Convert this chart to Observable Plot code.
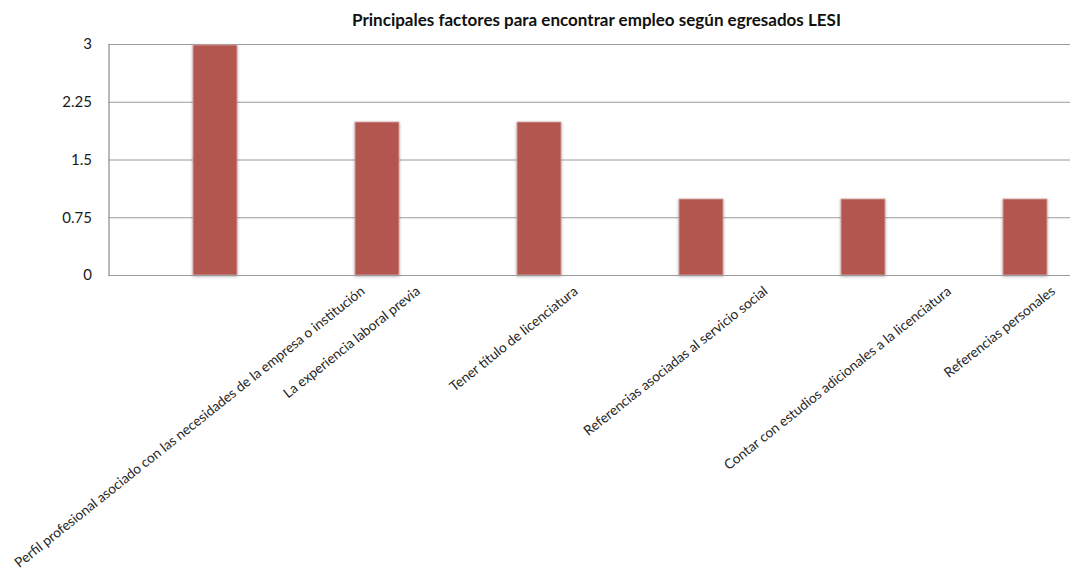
<!DOCTYPE html>
<html>
<head>
<meta charset="utf-8">
<script src="https://cdn.jsdelivr.net/npm/d3@7"></script>
<script src="https://cdn.jsdelivr.net/npm/@observablehq/plot@0.6"></script>
<style>
  html, body { margin: 0; padding: 0; background: #fff; }
  #title { width: 1070px; height: 30px; box-sizing: border-box; padding-top: 10px; padding-left: 123px;
           text-align: center; font: bold 17px Lato, "Open Sans", sans-serif; line-height: 20px; color: #111; }
  g[aria-label="bar"] rect { filter: drop-shadow(0px 1px 1.5px rgba(0,0,0,0.35)); }
</style>
</head>
<body>
<div id="title">Principales factores para encontrar empleo según egresados LESI</div>
<div id="chart"></div>
<script>
const categories = [
  "Perfil profesional asociado con las necesidades de la empresa o institución",
  "La experiencia laboral previa",
  "Tener título de licenciatura",
  "Referencias asociadas al servicio social",
  "Contar con estudios adicionales a la licenciatura",
  "Referencias personales"
];
const values = [3, 2, 2, 1, 1, 1];
const yTicks = [0, 0.75, 1.5, 2.25, 3];
const yTickLabels = ["0", "0.75", "1.5", "2.25", "3"];

const data = categories.map((c, i) => ({category: c, value: values[i]}));

const labelSize = 13.7;
const angle = 38.5;
const ctx = document.createElement("canvas").getContext("2d");
ctx.font = labelSize + "px Lato";
const rad = angle * Math.PI / 180;
const labelMarks = categories.map(c => {
  const L = ctx.measureText(c).width;
  const off = 12 + (L * Math.sin(rad) + labelSize * Math.cos(rad)) / 2;
  return Plot.text([c], {
    x: d => d, frameAnchor: "bottom", textAnchor: "middle", rotate: -angle,
    dx: -23, dy: off, fontSize: labelSize, fontFamily: "Lato", fill: "#262626"
  });
});

const chart = Plot.plot({
  width: 1070,
  height: 542,
  marginTop: 14,
  marginBottom: 297,
  marginLeft: 108.5,
  marginRight: 0,
  style: {fontFamily: "Lato, 'Open Sans', sans-serif", background: "#fff", overflow: "hidden"},
  x: {type: "band", domain: categories, range: [132, 1107.5], paddingInner: 0.73, paddingOuter: 0.365, axis: null},
  y: {domain: [0, 3], axis: null},
  marks: [
    Plot.gridY(yTicks.slice(1), {stroke: "#9a9a9a", strokeOpacity: 1, strokeWidth: 1}),
    Plot.barY(data, {x: "category", y: "value", fill: "#B3564F", stroke: "#dcaaa7", strokeWidth: 0.8, insetTop: 1}),
    Plot.ruleY([0], {stroke: "#9a9a9a", strokeWidth: 1.2}),
    Plot.frame({anchor: "left", stroke: "#8a8a8a", strokeWidth: 1.2}),
    Plot.axisY({ticks: yTicks, tickSize: 0, tickPadding: 17, tickFormat: (d) => yTickLabels[yTicks.indexOf(d)],
                fontSize: 15, fill: "#1a1a1a", label: null}),
    ...labelMarks
  ]
});
document.getElementById("chart").appendChild(chart);
</script>
</body>
</html>
